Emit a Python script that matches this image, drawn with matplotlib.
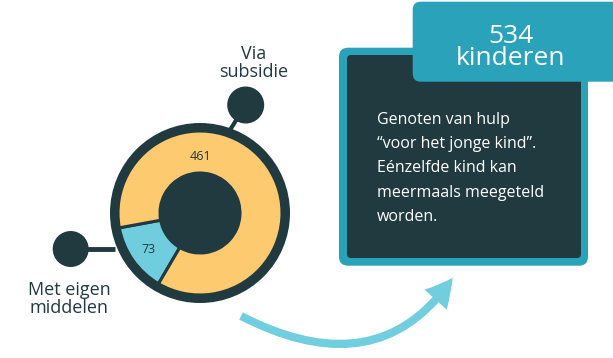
import numpy as np
import matplotlib.pyplot as plt
from matplotlib.patches import Circle, FancyBboxPatch, FancyArrowPatch
from matplotlib.path import Path

plt.rcParams['font.family'] = ['Open Sans', 'DejaVu Sans']

# data
groups = ['Met eigen\nmiddelen', 'Via\nsubsidie']
counts = [73, 461]
unit = 'kinderen'
note_lines = ['Genoten van hulp',
              '\u201cvoor het jonge kind\u201d.',
              'Eénzelfde kind kan',
              'meermaals meegeteld',
              'worden.']

dark = '#203a40'
yellow = '#fdca6f'
blue = '#6fcddd'
teal = '#29a2ba'
arrow_blue = '#70cede'

fig = plt.figure(figsize=(6.13, 3.58), dpi=100)
ax = fig.add_axes([0, 0, 1, 1])

# donut (axes units = pixels, y up)
cx, cy = 200, 145
ax.add_patch(Circle((cx, cy), 90, fc=dark, ec='none', zorder=1))
share = counts[0] / sum(counts) * 360
wedges, _ = ax.pie(counts, colors=[blue, yellow], center=(cx, cy), radius=82,
                   startangle=215 - share / 2, counterclock=True,
                   wedgeprops=dict(width=42, edgecolor=dark, linewidth=2.2))
for w in wedges:
    w.set_zorder(2)
ax.add_patch(Circle((cx, cy), 40, fc=dark, ec='none', zorder=3))

w = wedges[0]
a = np.deg2rad((w.theta1 + w.theta2) / 2)
ax.text(cx + 63 * np.cos(a), cy + 63 * np.sin(a), str(counts[0]),
        ha='center', va='center', fontsize=9, color=dark, zorder=4)
ax.text(cx, cy + 57, str(counts[1]), ha='center', va='center',
        fontsize=9, color=dark, zorder=4)

# connectors
ax.plot([245.7, 230], [253, 228], color=dark, lw=3, zorder=0.5, solid_capstyle='butt')
ax.add_patch(Circle((245.7, 253), 18.5, fc=dark, ec='none', zorder=0.6))
ax.plot([70.7, 115], [109, 109], color=dark, lw=3.5, zorder=0.5, solid_capstyle='butt')
ax.add_patch(Circle((70.7, 109), 18, fc=dark, ec='none', zorder=0.6))

ax.text(254, 281.3, groups[1], ha='center', va='baseline', fontsize=13,
        color=dark, linespacing=0.95)
ax.text(69, 45.3, groups[0], ha='center', va='baseline', fontsize=13,
        color=dark, linespacing=0.95)

# info box
ax.add_patch(FancyBboxPatch((339, 92.3), 249, 218,
                            boxstyle='round,pad=0,rounding_size=9',
                            fc=teal, ec='none', zorder=1))
ax.add_patch(FancyBboxPatch((347, 100), 234, 203,
                            boxstyle='round,pad=0,rounding_size=4',
                            fc=dark, ec='none', zorder=2))
ax.add_patch(FancyBboxPatch((412.7, 276.3), 230, 80,
                            boxstyle='round,pad=0,rounding_size=8',
                            fc=teal, ec='none', zorder=3))
ax.text(511, 293, f'{sum(counts)}\n{unit}', ha='center', va='baseline',
        fontsize=19, color='white', linespacing=0.82, zorder=4)

for i, line in enumerate(note_lines):
    ax.text(376.7, 234 - i * 24.2, line, ha='left', va='baseline',
            fontsize=11.5, color='white', zorder=4)

# curved arrow
arc = Path([(241, 42), (379, -29), (452.7, 80.3)],
           [Path.MOVETO, Path.CURVE3, Path.CURVE3])
ax.add_patch(FancyArrowPatch(path=arc,
                             arrowstyle='simple,head_length=20,head_width=21.6,tail_width=5.8',
                             mutation_scale=1, fc=arrow_blue, ec='none', zorder=2))

ax.set_xlim(0, 613)
ax.set_ylim(0, 358)
ax.set_aspect('auto')
ax.axis('off')

fig.savefig('out.png', dpi=100)
